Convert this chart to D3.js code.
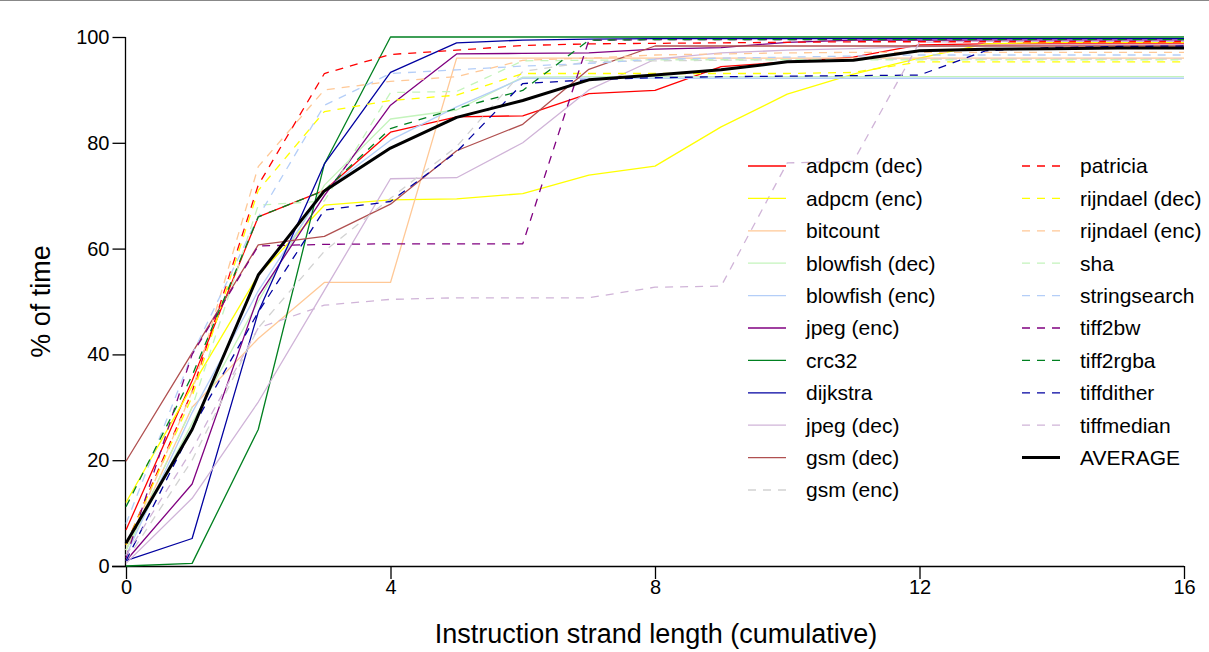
<!DOCTYPE html>
<html>
<head>
<meta charset="utf-8">
<script src="https://cdn.jsdelivr.net/npm/d3@7"></script>
<style>
  html, body { margin: 0; padding: 0; background: #fff; }
  svg { display: block; font-family: "Liberation Sans", Arial, sans-serif; }
</style>
</head>
<body>
<svg id="chart" width="1209" height="652"></svg>
<script>
// ---- data ----
const strandLengths = d3.range(0, 17);
const xTicks = [0, 4, 8, 12, 16];
const yTicks = [0, 20, 40, 60, 80, 100];

const seriesNames = [
  "adpcm (dec)", "adpcm (enc)", "bitcount", "blowfish (dec)", "blowfish (enc)",
  "jpeg (enc)", "crc32", "dijkstra", "jpeg (dec)", "gsm (dec)", "gsm (enc)",
  "patricia", "rijndael (dec)", "rijndael (enc)", "sha", "stringsearch",
  "tiff2bw", "tiff2rgba", "tiffdither", "tiffmedian", "AVERAGE"
];
const seriesColors = [
  "#ff0000", "#ffff00", "#ffc896", "#c4f4bc", "#b4cef8",
  "#800080", "#008020", "#0000a0", "#d0b4d8", "#b05050", "#d2d2d2",
  "#ff0000", "#ffff00", "#ffc896", "#c4f4bc", "#b4cef8",
  "#800080", "#008020", "#0000a0", "#d0b4d8", "#000000"
];
const seriesDashed = [
  false, false, false, false, false, false, false, false, false, false, true,
  true, true, true, true, true, true, true, true, true, false
];

const adpcmDec     = [6.8, 35, 66, 71, 82, 84.9, 85.1, 89.3, 89.9, 94.4, 95.3, 96.2, 98.5, 98.7, 98.7, 98.7, 98.7];
const adpcmEnc     = [12, 34, 55, 68.2, 69.2, 69.4, 70.4, 73.9, 75.6, 83, 89.2, 93, 96, 98.7, 99, 99, 99];
const bitcount     = [3, 30, 43, 53.6, 53.6, 96, 96, 96, 96, 96, 96, 96, 96, 96, 96, 96, 96];
const blowfishDec  = [3, 27, 50, 72, 84.5, 86.2, 92.4, 92.5, 92.5, 92.5, 92.5, 92.5, 92.5, 92.5, 92.5, 92.5, 92.5];
const blowfishEnc  = [2, 29, 52, 71, 80.5, 86.8, 92.2, 92.2, 92.2, 92.2, 92.2, 92.2, 92.2, 92.2, 92.2, 92.2, 92.2];
const jpegEnc      = [1, 15.5, 51, 70, 87.1, 96.8, 96.9, 97, 97.7, 98, 99, 99.4, 99.4, 99.4, 99.4, 99.4, 99.4];
const crc32        = [0, 0.5, 25.8, 76, 100, 100, 100, 100, 100, 100, 100, 100, 100, 100, 100, 100, 100];
const dijkstra     = [1, 5.2, 48, 76, 93.3, 98.9, 99.4, 99.6, 99.7, 99.7, 99.7, 99.7, 99.7, 99.7, 99.7, 99.7, 99.7];
const jpegDec      = [0.5, 12.8, 31, 52.1, 73.2, 73.4, 80, 90, 95.8, 97, 97.5, 97.8, 98.2, 98.4, 98.5, 98.5, 98.5];
const gsmDec       = [19.8, 40.3, 60.7, 62.3, 68.4, 78.5, 83.5, 93.9, 98.3, 98.3, 98.3, 98.3, 98.3, 98.3, 98.3, 98.3, 98.3];
const gsmEnc       = [1, 20, 45, 59.5, 69.5, 79.3, 93.5, 95.3, 95.5, 95.6, 95.7, 95.8, 95.8, 95.8, 95.8, 95.8, 95.8];
const patricia     = [4, 33, 72, 93.1, 96.7, 97.5, 98.4, 98.7, 98.8, 98.9, 99, 99.1, 99.1, 99.1, 99.1, 99.1, 99.1];
const rijndaelDec  = [4, 32, 71, 85.9, 88, 89, 93.1, 93.1, 93.1, 93.1, 93.1, 93.3, 95.3, 95.3, 95.3, 95.3, 95.3];
const rijndaelEnc  = [3, 33, 75.5, 90, 91.6, 92.5, 95.6, 96, 96.6, 96.8, 97, 97.1, 97.1, 97.1, 97.1, 97.1, 97.1];
const sha          = [3, 30, 68.2, 69, 89.5, 89.7, 95.5, 95.6, 95.7, 95.7, 95.7, 95.7, 95.7, 95.7, 95.7, 95.7, 95.7];
const stringsearch = [8, 40, 66, 87.1, 93.1, 93.8, 94.5, 95, 95.8, 96, 96.2, 96.4, 96.6, 96.6, 96.6, 96.6, 96.6];
const tiff2bw      = [1.5, 40, 60.5, 60.8, 60.9, 60.9, 60.9, 99.4, 99.5, 99.5, 99.5, 99.5, 99.5, 99.5, 99.5, 99.5, 99.5];
const tiff2rgba    = [11.2, 36, 66, 71, 82.7, 86.5, 89.9, 99.4, 99.5, 99.5, 99.5, 99.5, 99.5, 99.5, 99.5, 99.5, 99.5];
const tiffdither   = [1, 26, 48, 67.3, 68.9, 78.3, 91.2, 91.9, 92.3, 92.5, 92.6, 92.7, 92.8, 97.4, 98, 98.2, 98.3];
const tiffmedian   = [2, 22, 45, 49.3, 50.4, 50.7, 50.7, 50.7, 52.7, 52.9, 76.2, 76.5, 99, 99.2, 99.2, 99.2, 99.2];
const average      = [4.3, 25.8, 55, 70.9, 79, 84.8, 88, 91.9, 92.8, 93.8, 95.3, 95.6, 97.4, 97.7, 97.8, 97.9, 97.9];

const seriesValues = [
  adpcmDec, adpcmEnc, bitcount, blowfishDec, blowfishEnc, jpegEnc, crc32, dijkstra,
  jpegDec, gsmDec, gsmEnc, patricia, rijndaelDec, rijndaelEnc, sha, stringsearch,
  tiff2bw, tiff2rgba, tiffdither, tiffmedian, average
];

// ---- layout ----
const svg = d3.select("#chart");
const W = 1209, H = 652;
const plotL = 126, plotR = 1184, plotT = 37, plotB = 566;

const x = d3.scaleLinear().domain([0, 16]).range([plotL, plotR]);
const y = d3.scaleLinear().domain([0, 100]).range([plotB, plotT]);

// top rule
svg.append("line").attr("x1", 0).attr("x2", W).attr("y1", 0.5).attr("y2", 0.5)
  .attr("stroke", "#888").attr("stroke-width", 1);

// axes
const xAxis = d3.axisBottom(x).tickValues(xTicks).tickSize(13).tickPadding(1).tickFormat(d3.format("d"));
const gx = svg.append("g").attr("transform", `translate(0,${plotB})`).call(xAxis);
gx.select(".domain").attr("d", `M${plotL - 14},0.5H${plotR}`).attr("stroke", "#000").attr("stroke-width", 1.3);
gx.selectAll(".tick line").attr("stroke", "#000").attr("stroke-width", 1.3);
gx.selectAll(".tick text").attr("font-size", 20).attr("fill", "#000")
  .attr("font-family", "Liberation Sans, Arial, sans-serif");

const yAxis = d3.axisLeft(y).tickValues(yTicks).tickSize(13).tickPadding(3).tickFormat(d3.format("d"));
const gy = svg.append("g").attr("transform", `translate(${plotL - 0.5},0)`).call(yAxis);
gy.select(".domain").attr("d", `M0,${plotT}V${plotB}`).attr("stroke", "#000").attr("stroke-width", 1.3);
gy.selectAll(".tick line").attr("stroke", "#000").attr("stroke-width", 1.3);
gy.selectAll(".tick text").attr("font-size", 20).attr("fill", "#000")
  .attr("font-family", "Liberation Sans, Arial, sans-serif");

// titles
svg.append("text").attr("x", (plotL + plotR) / 2 + 1).attr("y", 643)
  .attr("text-anchor", "middle").attr("font-size", 27).attr("fill", "#000")
  .text("Instruction strand length (cumulative)");
svg.append("text").attr("transform", `translate(50,${(plotT + plotB) / 2}) rotate(-90)`)
  .attr("text-anchor", "middle").attr("font-size", 27).attr("fill", "#000")
  .text("% of time");

// lines
const line = d3.line().x((d, i) => x(strandLengths[i])).y(d => y(d));
const gLines = svg.append("g");
seriesValues.forEach((vals, k) => {
  const isAvg = seriesNames[k] === "AVERAGE";
  gLines.append("path").datum(vals)
    .attr("d", line)
    .attr("fill", "none")
    .attr("stroke", seriesColors[k])
    .attr("stroke-width", isAvg ? 3 : 1.3)
    .attr("stroke-linejoin", "round")
    .attr("stroke-dasharray", seriesDashed[k] ? "8,7" : null);
});

// legend
const legRow0 = 166, legDy = 32.4;
const legCols = [{ lx: 748, tx: 806 }, { lx: 1022, tx: 1080 }];
const gLeg = svg.append("g");
seriesNames.forEach((name, k) => {
  const col = k < 11 ? 0 : 1;
  const row = k < 11 ? k : k - 11;
  const cy = legRow0 + row * legDy;
  const c = legCols[col];
  const isAvg = name === "AVERAGE";
  gLeg.append("line").attr("x1", c.lx).attr("x2", c.lx + 38).attr("y1", cy).attr("y2", cy)
    .attr("stroke", seriesColors[k]).attr("stroke-width", isAvg ? 3 : 1.3)
    .attr("stroke-dasharray", seriesDashed[k] ? "8,7" : null);
  gLeg.append("text").attr("x", c.tx).attr("y", cy).attr("dy", "0.35em")
    .attr("font-size", 21).attr("fill", "#000").text(name);
});
</script>
</body>
</html>
